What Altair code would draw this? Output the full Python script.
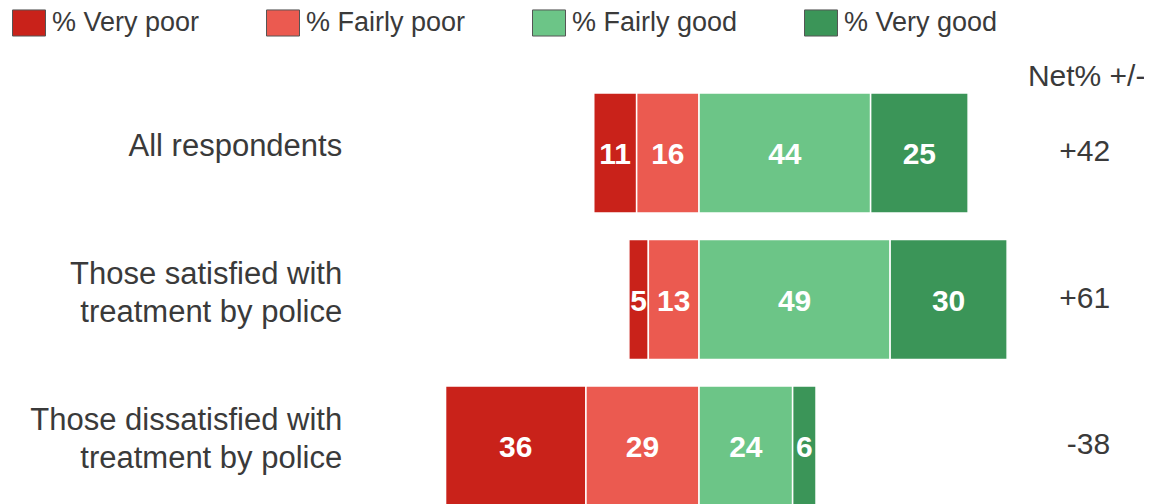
import altair as alt
import pandas as pd

categories = [
    "All respondents",
    "Those satisfied with\ntreatment by police",
    "Those dissatisfied with\ntreatment by police",
]
ratings = ["% Very poor", "% Fairly poor", "% Fairly good", "% Very good"]
very_poor = [11, 5, 36]
fairly_poor = [16, 13, 29]
fairly_good = [44, 49, 24]
very_good = [25, 30, 6]
net_labels = ["+42", "+61", "-38"]
colors = ["#C9221A", "#EB5A50", "#6CC587", "#3B9558"]

FONT = "Liberation Sans"
TXT = "#3a3a3a"
LINE_H = 38

series = [very_poor, fairly_poor, fairly_good, very_good]
rows = []
for k, (r, vals) in enumerate(zip(ratings, series)):
    for c, v in zip(categories, vals):
        rows.append({"category": c, "rating": r, "value": v, "k": k})
df = pd.DataFrame(rows)
cat_df = pd.DataFrame({"category": categories, "net": net_labels})
head_df = pd.DataFrame({"t": ["Net% +/-"]})

xscale = alt.Scale(domain=[-177.2, 114.1], nice=False, zero=False)
yscale = alt.Scale(domain=categories, range=[85, 498], paddingInner=0.181, paddingOuter=0)

base = alt.Chart(df).transform_calculate(
    signed="datum.k < 2 ? -datum.value : datum.value",
    so="datum.k < 2 ? 1 - datum.k : datum.k",
).transform_stack(
    stack="signed",
    groupby=["category"],
    as_=["x0", "x1"],
    sort=[alt.SortField("so", order="ascending")],
    offset="zero",
).transform_calculate(mid="(datum.x0 + datum.x1) / 2")

sym = "M-1,-0.79L1,-0.79L1,0.79L-1,0.79Z"

bars = base.mark_bar(stroke="white", strokeWidth=1.5).encode(
    x=alt.X("x0:Q", scale=xscale, axis=None),
    x2="x1:Q",
    y=alt.Y("category:N", scale=yscale, axis=None),
    color=alt.Color(
        "rating:N",
        scale=alt.Scale(domain=ratings, range=colors),
        legend=alt.Legend(
            orient="none",
            legendX=4,
            legendY=-2.5,
            direction="horizontal",
            columns=4,
            title=None,
            symbolType=sym,
            symbolSize=1089,
            symbolStrokeColor="#555555",
            symbolStrokeWidth=1,
            symbolOpacity=1,
            labelFont=FONT,
            labelFontSize=27,
            labelColor=TXT,
            labelOffset=6,
            labelLimit=400,
            columnPadding=64,
            padding=0,
        ),
    ),
)

seg_text = base.mark_text(
    font=FONT, fontSize=30, fontWeight="bold", color="white", baseline="middle", dy=2
).encode(
    x=alt.X("mid:Q", scale=xscale, axis=None),
    y=alt.Y("category:N", scale=yscale, axis=None),
    text="value:Q",
)

# yOffset places text from the band start, so dy adds half the band (60px)
cat_text = alt.Chart(cat_df).transform_calculate(
    shift=f"-(length(split(datum.category, '\\n')) - 1) * {LINE_H} / 2"
).mark_text(
    font=FONT, fontSize=31, color=TXT, align="right", baseline="middle",
    lineBreak="\n", lineHeight=LINE_H, dy=54,
).encode(
    x=alt.datum(-91.5, scale=xscale),
    y=alt.Y("category:N", scale=yscale, axis=None),
    yOffset=alt.YOffset("shift:Q", scale=None),
    text="category:N",
)

net_text = alt.Chart(cat_df).mark_text(
    font=FONT, fontSize=30, color=TXT, align="right", baseline="middle", dy=-1,
).encode(
    x=alt.datum(105.4),
    y=alt.Y("category:N", scale=yscale, axis=None),
    text="net:N",
)

head_text = alt.Chart(head_df).mark_text(
    font=FONT, fontSize=30, color=TXT, align="center", baseline="middle",
).encode(
    x=alt.datum(99.4),
    y=alt.value(69),
    text="t:N",
)

chart = alt.layer(bars, seg_text, cat_text, net_text, head_text).properties(
    width=1136,
    height=496,
    autosize=alt.AutoSizeParams(type="none"),
    padding=0,
).configure_view(stroke=None)

chart.save("out.html", embed_options={"renderer": "svg", "actions": False})
